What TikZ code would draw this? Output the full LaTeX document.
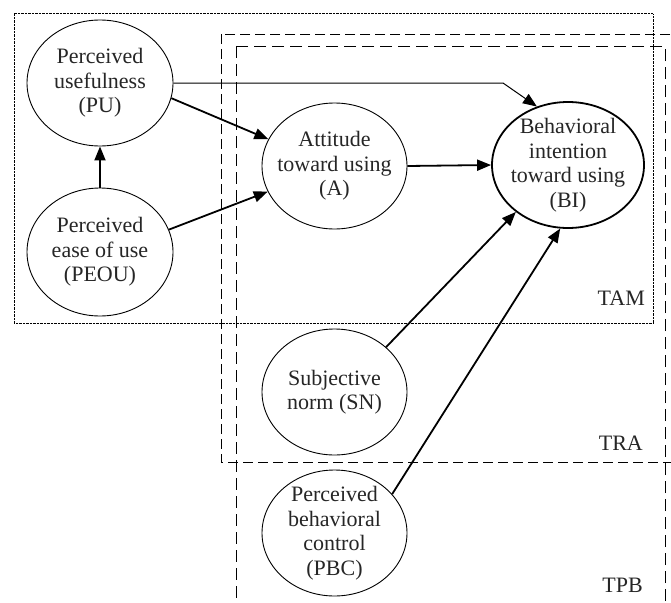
\documentclass[tikz,border=0pt]{standalone}
\usepackage{fontspec}
\setmainfont{Liberation Serif}
\usetikzlibrary{shapes.geometric,arrows.meta}
\tikzset{
  concept/.style={ellipse, draw, line width=0.9pt, inner sep=-30pt, align=center,
    minimum width=146pt, minimum height=126pt, text=black!85, font=\fontsize{22}{24.5}\selectfont},
  thickarrow/.style={line width=1.8pt, -{Triangle[length=14pt,width=11pt]}},
  thinarrow/.style={line width=1pt, -{Triangle[length=14pt,width=11pt]}},
  tamframe/.style={line width=1pt, dash pattern=on 0.8pt off 0.6pt},
  traframe/.style={line width=0.8pt, dash pattern=on 10pt off 5pt},
  tpbframe/.style={line width=0.8pt, dash pattern=on 12pt off 6pt},
  frlabel/.style={anchor=base east, inner sep=0pt, text=black!85, font=\fontsize{22}{24.5}\selectfont}
}
\begin{document}
\begin{tikzpicture}[x=1pt, y=-1pt]
\clip (0,0) rectangle (671,602);
\fill[white] (0,0) rectangle (671,602);
% frames
\draw[tamframe] (14,14) rectangle (653,323);
\draw[traframe] (221,34) rectangle (700,462);
\draw[tpbframe] (236,46) rectangle (665,640);
\node[frlabel] (tam) at (645,305) {TAM};
\node[frlabel] (tra) at (643,450) {TRA};
\node[frlabel] (tpb) at (643,592) {TPB};
% concepts
\node[concept] (pu) at (100,83) {Perceived\\usefulness\\(PU)};
\node[concept, minimum height=128pt] (peou) at (100,252) {Perceived\\ease of use\\(PEOU)};
\node[concept, minimum width=145pt] (a) at (334.5,166) {Attitude\\toward using\\(A)};
\node[concept, line width=1.8pt, minimum width=152pt] (bi) at (568,165) {Behavioral\\intention\\toward using\\(BI)};
\node[concept, minimum width=145pt] (sn) at (334.5,392) {Subjective\\norm (SN)};
\node[concept, minimum width=145pt] (pbc) at (334.5,533) {Perceived\\behavioral\\control\\(PBC)};
% connectors
\coordinate (bend) at (503,83);
\draw[thinarrow] (pu.east) -- (bend) -- (bi.118);
\draw[thickarrow] (pu.348) -- (a.158);
\draw[thickarrow] (peou.north) -- (pu.south);
\draw[thickarrow] (peou.18) -- (a.201);
\draw[thickarrow] (a.east) -- (bi.west);
\draw[thickarrow] (sn.41) -- (bi.222);
\draw[thickarrow] (pbc.34) -- (bi.263);
\end{tikzpicture}
\end{document}
